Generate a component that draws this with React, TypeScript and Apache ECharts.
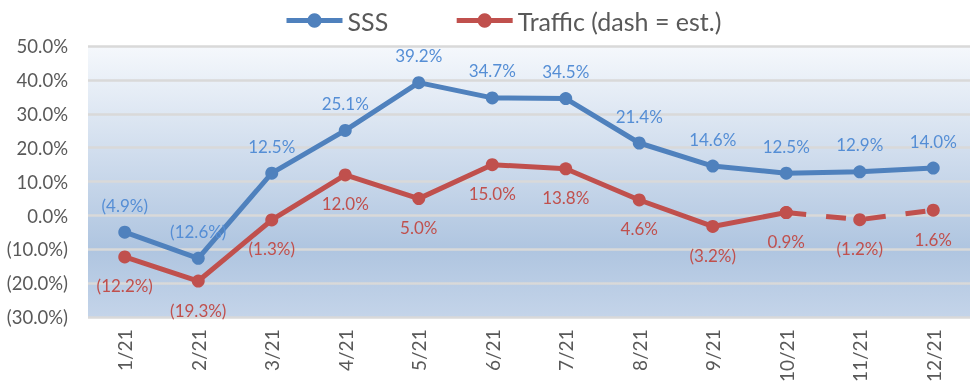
import React, { useEffect, useRef } from "react";
import * as echarts from "echarts";

const categories = ["1/21", "2/21", "3/21", "4/21", "5/21", "6/21", "7/21", "8/21", "9/21", "10/21", "11/21", "12/21"];
const sssValues = [-4.9, -12.6, 12.5, 25.1, 39.2, 34.7, 34.5, 21.4, 14.6, 12.5, 12.9, 14.0];
const trafficValues = [-12.2, -19.3, -1.3, 12.0, 5.0, 15.0, 13.8, 4.6, -3.2, 0.9, -1.2, 1.6];
const estimateStartIndex = 9; // dashed from 10/21 onward
const yMin = -30;
const yMax = 50;
const yInterval = 10;

const FONT = "Lato, 'Open Sans', sans-serif";
const BLUE = "#4f81bd";
const RED = "#c0504d";

const fmt = (v: number) => (v < 0 ? `(${(-v).toFixed(1)}%)` : `${v.toFixed(1)}%`);

export default function App() {
  const ref = useRef<HTMLDivElement>(null);
  useEffect(() => {
    if (!ref.current) return;
    const chart = echarts.init(ref.current, undefined, { renderer: "svg" });
    const solidTraffic = trafficValues.map((v, i) => (i <= estimateStartIndex ? v : null));
    const dashedTraffic = trafficValues.map((v, i) => (i >= estimateStartIndex ? v : null));
    chart.setOption({
      animation: false,
      textStyle: { fontFamily: FONT },
      legend: {
        top: 3,
        left: 279,
        data: ["SSS", "Traffic (dash = est.)"],
        itemWidth: 56,
        itemHeight: 18,
        itemGap: 66,
        lineStyle: { width: 5 },
        textStyle: { fontSize: 25, color: "#595959", fontFamily: FONT },
      },
      grid: {
        left: 88,
        right: 0,
        top: 46,
        bottom: 67,
        show: true,
        borderWidth: 0,
        backgroundColor: new echarts.graphic.LinearGradient(0, 0, 0, 1, [
          { offset: 0, color: "#f5f8fc" },
          { offset: 0.75, color: "#afc5e0" },
          { offset: 1, color: "#c4d4e9" },
        ]),
      },
      xAxis: {
        type: "category",
        data: categories,
        boundaryGap: true,
        axisLine: { show: false },
        axisTick: { show: false },
        axisLabel: { rotate: 90, fontSize: 19, color: "#595959", margin: 12, fontFamily: FONT },
      },
      yAxis: {
        type: "value",
        min: yMin,
        max: yMax,
        interval: yInterval,
        axisLine: { show: false },
        axisTick: { show: false },
        axisLabel: { fontSize: 18.5, color: "#595959", margin: 20, formatter: fmt, fontFamily: FONT },
        splitLine: { lineStyle: { color: "#d9d9d9", width: 2.5 } },
      },
      series: [
        {
          name: "SSS",
          type: "line",
          data: sssValues,
          symbol: "circle",
          symbolSize: 13,
          itemStyle: { color: BLUE },
          lineStyle: { color: BLUE, width: 5 },
          label: {
            show: true,
            position: "top",
            distance: 12,
            color: "#558ed5",
            fontSize: 17,
            fontFamily: FONT,
            formatter: (p: any) => fmt(p.value),
          },
          z: 3,
        },
        {
          name: "Traffic (dash = est.)",
          type: "line",
          data: solidTraffic,
          symbol: "circle",
          symbolSize: 13,
          itemStyle: { color: RED },
          lineStyle: { color: RED, width: 5 },
          label: {
            show: true,
            position: "bottom",
            distance: 14,
            color: RED,
            fontSize: 17,
            fontFamily: FONT,
            formatter: (p: any) => (p.value == null ? "" : fmt(p.value)),
          },
          z: 2,
        },
        {
          name: "Traffic est.",
          type: "line",
          data: dashedTraffic,
          symbol: "circle",
          symbolSize: 13,
          itemStyle: { color: RED },
          lineStyle: { color: RED, width: 5, type: [20, 20] },
          label: {
            show: true,
            position: "bottom",
            distance: 14,
            color: RED,
            fontSize: 17,
            fontFamily: FONT,
            formatter: (p: any) => (p.value == null || p.dataIndex === estimateStartIndex ? "" : fmt(p.value)),
          },
          z: 2,
        },
      ],
    });
    return () => chart.dispose();
  }, []);
  return <div ref={ref} style={{ position: "fixed", left: 0, top: 0, width: 970, height: 385 }} />;
}
